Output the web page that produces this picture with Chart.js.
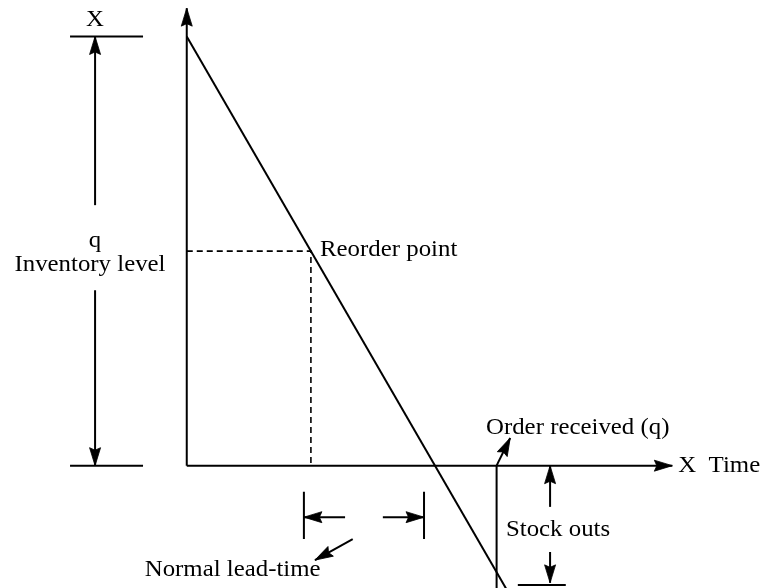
<!DOCTYPE html>
<html>
<head>
<meta charset="utf-8">
<script src="https://cdn.jsdelivr.net/npm/chart.js@4/dist/chart.umd.min.js"></script>
<style>
  html, body { margin: 0; padding: 0; background: #fff; }
  #chart { display: block; }
</style>
</head>
<body>
<canvas id="chart" width="764" height="588"></canvas>
<script>
// Inventory model sketch: time on x, inventory level on y (max level X = 100)
const timeAxis      = [[0, 0], [114.4, 0]];
const levelAxis     = [[0, 0], [0, 106.6]];
const demandLine    = [[0, 100], [82, -40.2]];
const reorderGuide  = [[0, 50], [29.25, 50], [29.25, 0]];
const orderReceipt  = [[73, 0], [73, -30]];
const receiptPointer = [[73, 0], [76.2, 6.45]];

// "q" dimension at the left
const levelTickTop    = [[-27.5, 100], [-10.3, 100]];
const levelTickBottom = [[-27.5, 0], [-10.3, 0]];
const levelArrowUp    = [[-21.6, 60.7], [-21.6, 100]];
const levelArrowDown  = [[-21.6, 40.9], [-21.6, 0]];

// lead time markers
const leadTickStart  = [[27.6, -6.1], [27.6, -17.1]];
const leadTickEnd    = [[55.9, -6.1], [55.9, -17.1]];
const leadArrowLeft  = [[37.3, -12], [27.6, -12]];
const leadArrowRight = [[46.2, -12], [55.9, -12]];
const leadPointer    = [[39.1, -17.1], [30.2, -22]];

// stock outs
const stockArrowUp   = [[85.6, -9.6], [85.6, 0]];
const stockArrowDown = [[85.6, -20.1], [85.6, -27.3]];
const stockBar       = [[78, -27.8], [89.3, -27.8]];

const labelTexts  = ['X', 'q', 'Inventory level', 'Reorder point', 'Order received (q)', 'X  Time', 'Stock outs', 'Normal lead-time'];
const labelX      = [-21.6, -21.6, -22.8, 31.4, 70.5, 115.8, 75.2, -9.9];
const labelY      = [103.8, 52.4, 46.8, 50.2, 8.8, 0, -15, -24.3];
const labelAlign  = ['center', 'center', 'center', 'left', 'left', 'left', 'left', 'left'];

const toPts = arr => arr.map(p => ({ x: p[0], y: p[1] }));

function seg(data, arrow, dash) {
    return {
        data: toPts(data),
        showLine: true,
        borderColor: '#000',
        borderWidth: 2,
        borderDash: dash || [],
        pointRadius: 0,
        tension: 0,
        arrowEnd: !!arrow
    };
}

const datasets = [
    seg(timeAxis, true),
    seg(levelAxis, true),
    seg(demandLine),
    Object.assign(seg(reorderGuide, false, [6, 4]), { borderWidth: 1.6 }),
    seg(orderReceipt),
    seg(receiptPointer, true),
    seg(levelTickTop),
    seg(levelTickBottom),
    seg(levelArrowUp, true),
    seg(levelArrowDown, true),
    seg(leadTickStart),
    seg(leadTickEnd),
    seg(leadArrowLeft, true),
    seg(leadArrowRight, true),
    seg(leadPointer, true),
    seg(stockArrowUp, true),
    seg(stockArrowDown, true),
    seg(stockBar)
];

function drawHead(ctx, from, tip) {
    const ang = Math.atan2(tip.y - from.y, tip.x - from.x);
    const L = 18, W = 5.5, notch = 2.5;
    ctx.save();
    ctx.translate(tip.x, tip.y);
    ctx.rotate(ang);
    ctx.beginPath();
    ctx.moveTo(0, 0);
    ctx.lineTo(-L, -W);
    ctx.lineTo(-L + notch, 0);
    ctx.lineTo(-L, W);
    ctx.closePath();
    ctx.fillStyle = '#000';
    ctx.fill();
    ctx.lineWidth = 0.8;
    ctx.strokeStyle = '#000';
    ctx.stroke();
    ctx.restore();
}

const sketchPlugin = {
    id: 'sketch',
    afterDatasetsDraw(chart) {
        const ctx = chart.ctx;
        chart.data.datasets.forEach((ds, i) => {
            if (!ds.arrowEnd) return;
            const pts = chart.getDatasetMeta(i).data;
            const n = pts.length;
            drawHead(ctx, pts[n - 2], pts[n - 1]);
        });
        const xs = chart.scales.x, ys = chart.scales.y;
        ctx.save();
        ctx.fillStyle = '#000';
        ctx.font = "23px 'Liberation Serif', 'DejaVu Serif', serif";
        ctx.textBaseline = 'middle';
        labelTexts.forEach((t, i) => {
            const px = xs.getPixelForValue(labelX[i]);
            const py = ys.getPixelForValue(labelY[i]);
            ctx.save();
            ctx.translate(px, py);
            ctx.scale(1.08, 1);
            ctx.textAlign = labelAlign[i];
            ctx.fillText(t, 0, 0);
            ctx.restore();
        });
        ctx.restore();
    }
};

new Chart(document.getElementById('chart'), {
    type: 'scatter',
    data: { datasets: datasets },
    options: {
        responsive: false,
        animation: false,
        layout: { padding: 0 },
        plugins: { legend: { display: false }, tooltip: { enabled: false } },
        scales: {
            x: { type: 'linear', min: -44, max: 136, display: false },
            y: { type: 'linear', min: -28.5, max: 108.5, display: false }
        }
    },
    plugins: [sketchPlugin]
});
</script>
</body>
</html>
